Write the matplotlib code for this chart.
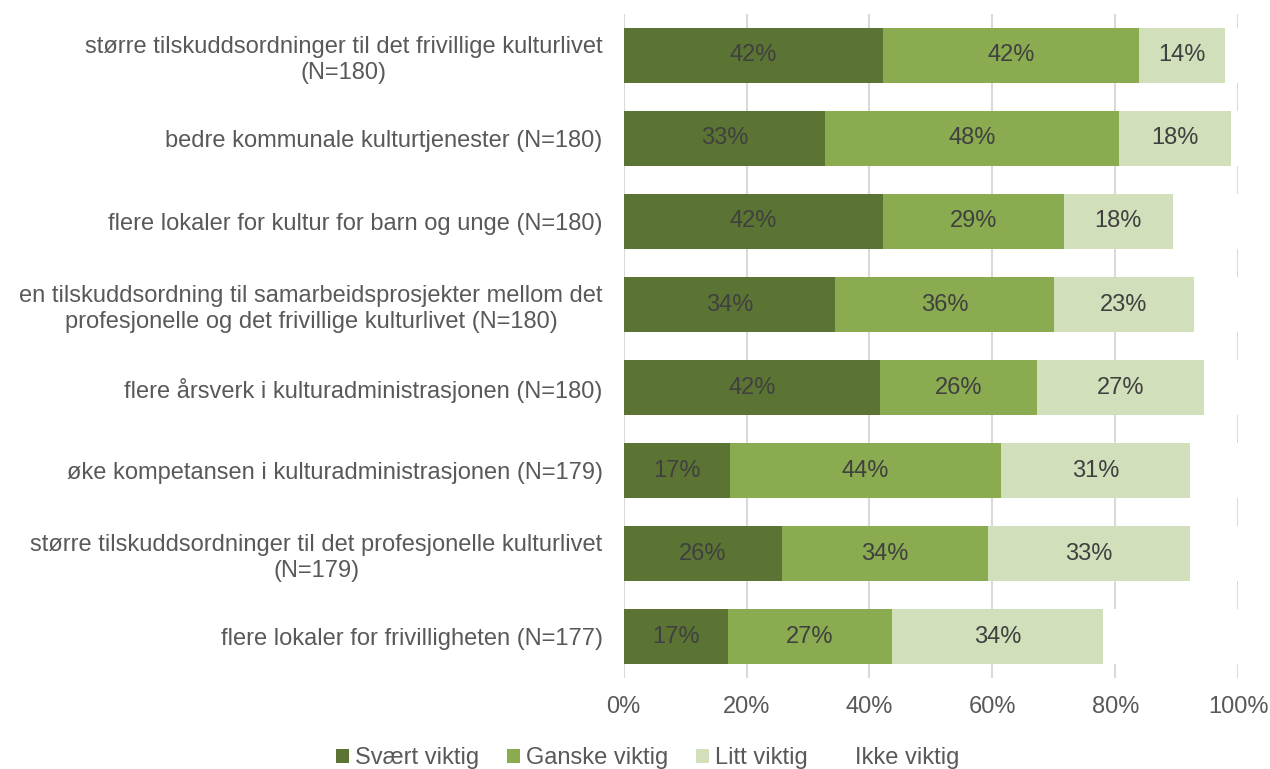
import matplotlib.pyplot as plt
import numpy as np

plt.rcParams['font.family'] = ['Liberation Sans', 'DejaVu Sans']

categories = [
    "større tilskuddsordninger til det frivillige kulturlivet\n(N=180)",
    "bedre kommunale kulturtjenester (N=180)",
    "flere lokaler for kultur for barn og unge (N=180)",
    "en tilskuddsordning til samarbeidsprosjekter mellom det\nprofesjonelle og det frivillige kulturlivet (N=180)",
    "flere årsverk i kulturadministrasjonen (N=180)",
    "øke kompetansen i kulturadministrasjonen (N=179)",
    "større tilskuddsordninger til det profesjonelle kulturlivet\n(N=179)",
    "flere lokaler for frivilligheten (N=177)",
]
series = ["Svært viktig", "Ganske viktig", "Litt viktig", "Ikke viktig"]
svaert = [42.2, 32.8, 42.2, 34.4, 41.7, 17.3, 25.7, 17.0]
ganske = [41.7, 47.8, 29.4, 35.6, 25.6, 44.1, 33.6, 26.6]
litt = [14.0, 18.3, 17.8, 22.8, 27.2, 30.7, 32.8, 34.4]
ikke = [2.1, 1.1, 10.6, 7.2, 5.5, 7.9, 7.9, 22.0]
xticks = [0, 20, 40, 60, 80, 100]

colors = ["#5B7433", "#8AAB50", "#D1DFBA", "#FFFFFF"]
fs = 17.0

fig = plt.figure(figsize=(12.7, 7.69), dpi=100)
ax = fig.add_axes([0.491, 0.118, 0.484, 0.864])

y = np.arange(len(categories))
left = np.zeros(len(categories))
for name, vals, col in zip(series, [svaert, ganske, litt, ikke], colors):
    vals = np.array(vals)
    ax.barh(y, vals, left=left, height=0.66, color=col, label=name, zorder=3)
    if name != "Ikke viktig":
        for yi, l, v in zip(y, left, vals):
            ax.text(l + v / 2, yi, f"{round(v)}%", ha="center", va="center",
                    fontsize=fs, color="#404040", zorder=4)
    left += vals

ax.set_xlim(0, 100)
ax.set_ylim(len(categories) - 0.5, -0.5)
ax.set_yticks(y)
ax.set_yticklabels(categories, fontsize=fs, color="#595959", multialignment="center",
                   linespacing=1.25)
ax.set_xticks(xticks)
ax.set_xticklabels([f"{t}%" for t in xticks], fontsize=fs, color="#595959")
ax.tick_params(axis="y", length=0, pad=15)
ax.tick_params(axis="x", length=0, pad=13)
for s in ax.spines.values():
    s.set_visible(False)
ax.grid(axis="x", color="#D9D9D9", linewidth=1.5, zorder=0)

fig.legend(loc="lower center", bbox_to_anchor=(0.51, -0.028), ncol=4, frameon=False,
           fontsize=fs, handlelength=0.55, handleheight=0.55, handletextpad=0.25,
           columnspacing=1.2, labelcolor="#595959")

fig.savefig("out.png", dpi=100)
